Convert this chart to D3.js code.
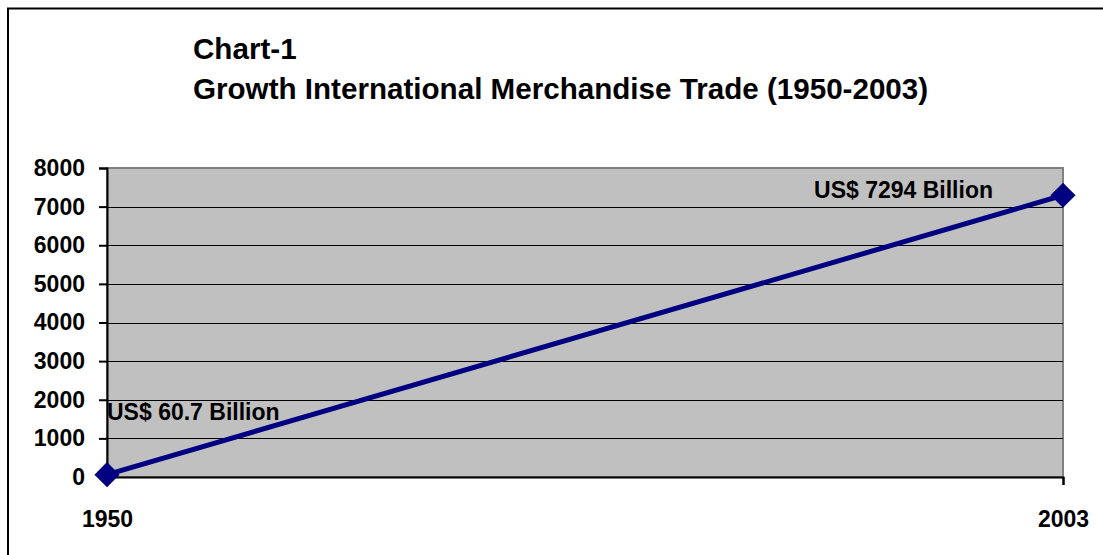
<!DOCTYPE html>
<html>
<head>
<meta charset="utf-8">
<script src="https://cdn.jsdelivr.net/npm/d3@7"></script>
<style>
  html, body { margin: 0; padding: 0; background: #fff; }
  svg { display: block; }
  text { font-family: "Liberation Sans", Arial, Helvetica, sans-serif; font-weight: bold; fill: #000; }
</style>
</head>
<body>
<svg id="chart" width="1103" height="555"></svg>
<script>
// Trade value of world merchandise exports, US$ billion
const years = [1950, 2003];
const tradeValues = [60.7, 7294];
const valueLabels = ["US$ 60.7 Billion", "US$ 7294 Billion"];
const yTicks = [0, 1000, 2000, 3000, 4000, 5000, 6000, 7000, 8000];
const xTicks = [1950, 2003];
const titleLines = ["Chart-1", "Growth International Merchandise Trade (1950-2003)"];

const points = years.map((yr, i) => ({ year: yr, value: tradeValues[i], label: valueLabels[i] }));

const W = 1103, H = 555;
const plot = { left: 107, right: 1063, top: 168, bottom: 477 };

const svg = d3.select("#chart");

// outer frame (right and bottom edges run off the page)
svg.append("rect")
  .attr("x", 8).attr("y", 8.5)
  .attr("width", W + 20).attr("height", H + 20)
  .attr("fill", "none").attr("stroke", "#000").attr("stroke-width", 2);

const x = d3.scaleLinear().domain([1950, 2003]).range([plot.left, plot.right]);
const y = d3.scaleLinear().domain([0, 8000]).range([plot.bottom, plot.top]);

// plot area
svg.append("rect")
  .attr("x", plot.left).attr("y", y(8000))
  .attr("width", plot.right - plot.left).attr("height", plot.bottom - y(8000))
  .attr("fill", "#c0c0c0")
  .attr("stroke", "#808080").attr("stroke-width", 2);

// horizontal gridlines
svg.append("g").selectAll("line")
  .data(yTicks.filter(t => t > 0 && t < 8000))
  .join("line")
  .attr("x1", plot.left).attr("x2", plot.right)
  .attr("y1", d => Math.round(y(d)) + 0.5).attr("y2", d => Math.round(y(d)) + 0.5)
  .attr("stroke", "#000").attr("stroke-width", 1);

// y axis
const yAxis = svg.append("g")
  .attr("transform", `translate(${plot.left},0)`)
  .call(d3.axisLeft(y).tickValues(yTicks).tickSize(8).tickPadding(14).tickFormat(d3.format("d")));
yAxis.select(".domain").attr("stroke", "#000").attr("stroke-width", 2);
yAxis.selectAll(".tick line").attr("stroke", "#000").attr("stroke-width", 2);
yAxis.selectAll(".tick text").style("font-size", "23px").attr("fill", "#000");

// x axis
const xAxis = svg.append("g")
  .attr("transform", `translate(0,${plot.bottom})`)
  .call(d3.axisBottom(x).tickValues(xTicks).tickSize(8).tickPadding(26).tickFormat(d3.format("d")));
xAxis.select(".domain").attr("stroke", "#000").attr("stroke-width", 2);
xAxis.selectAll(".tick line").attr("stroke", "#000").attr("stroke-width", 2);
xAxis.selectAll(".tick text").style("font-size", "23px").attr("fill", "#000");

// series line
svg.append("path")
  .datum(points)
  .attr("fill", "none")
  .attr("stroke", "#000080")
  .attr("stroke-width", 5)
  .attr("d", d3.line().x(d => x(d.year)).y(d => y(d.value)));

// diamond markers
svg.append("g").selectAll("path")
  .data(points)
  .join("path")
  .attr("transform", d => `translate(${x(d.year)},${y(d.value)}) rotate(45)`)
  .attr("d", d3.symbol().type(d3.symbolSquare).size(315))
  .attr("fill", "#000080");

// value labels
svg.append("g").selectAll("text")
  .data(points)
  .join("text")
  .attr("x", (d, i) => i === 0 ? x(d.year) : x(d.year) - 70)
  .attr("y", (d, i) => i === 0 ? y(d.value) - 55 : y(d.value) + 3)
  .attr("text-anchor", (d, i) => i === 0 ? "start" : "end")
  .style("font-size", "23px")
  .text(d => d.label);

// title
svg.append("g").selectAll("text")
  .data(titleLines)
  .join("text")
  .attr("x", 193)
  .attr("y", (d, i) => 59 + i * 40)
  .style("font-size", "29.6px")
  .text(d => d);
</script>
</body>
</html>
